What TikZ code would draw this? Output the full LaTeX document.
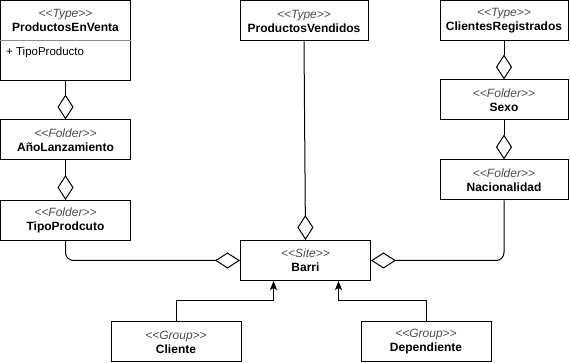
\documentclass[tikz,border=0pt]{standalone}
\usepackage{fontspec}
\setmainfont{Liberation Sans}[Ligatures=TeXOff]
\usetikzlibrary{arrows.meta}

% stereotype line above a class name
\newcommand{\stype}[1]{{\mdseries\itshape\color{black!70}<<#1>>}}

\begin{document}
\begin{tikzpicture}[x=1pt,y=-1pt,
	box/.style={draw, line width=1pt, minimum width=130pt, minimum height=40pt, inner sep=0pt, align=center, font=\fontsize{12}{14}\selectfont\bfseries},
	agg/.style={line width=1pt, -{Diamond[open,length=25pt,width=16pt]}},
	inh/.style={line width=1pt, -{Stealth[length=9pt,width=7pt,inset=2pt]}}]
	\useasboundingbox (0,0) rectangle (571,363);
	%\draw[help lines] (0,0) grid[step=20pt] (571,363);

	% left column
	\node[box, minimum height=80pt] (enventa) at (65.5,40.5) {};
	\node[align=center, inner sep=0pt, font=\fontsize{12}{14}\selectfont\bfseries] (enventa-head) at (65.5,20) {\stype{Type}\\ProductosEnVenta};
	\draw[line width=1pt, black!45] (enventa.west) -- (enventa.east);
	\node[anchor=west, inner sep=0pt, font=\fontsize{11.5}{13}\selectfont] (attr) at (6,53) {+ TipoProducto};
	\node[box] (lanz) at (65.5,140) {\stype{Folder}\\AñoLanzamiento};
	\node[box] (tipo) at (65.5,220.5) {\stype{Folder}\\TipoProdcuto};

	% middle
	\node[box, minimum width=128pt] (vendidos) at (304,21) {\stype{Type}\\ProductosVendidos};
	\node[box] (barri) at (305.5,260.5) {\stype{Site}\\Barri};
	\node[box] (cliente) at (176,342) {\stype{Group}\\Cliente};
	\node[box] (dependiente) at (426,342) {\stype{Group}\\Dependiente};

	% right column
	\node[box, minimum width=128pt] (registrados) at (504,20.5) {\stype{Type}\\ClientesRegistrados};
	\node[box, minimum width=128pt] (sexo) at (504,100) {\stype{Folder}\\Sexo};
	\node[box, minimum width=128pt] (nac) at (504,180) {\stype{Folder}\\Nacionalidad};

	% aggregations
	\draw[agg] (enventa.south) -- (lanz.north);
	\draw[agg] (lanz.south) -- (tipo.north);
	\draw[agg] (registrados.south) -- (sexo.north);
	\draw[agg] (sexo.south) -- (nac.north);
	\draw[agg] (vendidos.south) -- (barri.north);
	\draw[agg, rounded corners=8pt] (tipo.south) |- (barri.west);
	\draw[agg, rounded corners=8pt] (nac.south) |- (barri.east);

	% groups
	\draw[inh] (cliente.north) -- ++(0,-21) -| ([xshift=-32pt]barri.south);
	\draw[inh] (dependiente.north) -- ++(0,-21) -| ([xshift=33pt]barri.south);
\end{tikzpicture}
\end{document}
